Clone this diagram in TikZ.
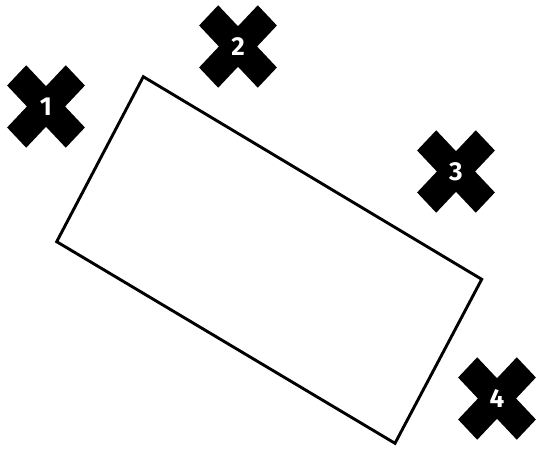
\documentclass[tikz,border=0pt]{standalone}
\usepackage{fontspec}
\setmainfont{Fira Sans}
\begin{document}
\begin{tikzpicture}[x=1pt,y=-1pt,
  box/.style={draw=black,line width=2.9pt,line join=miter},
  xmark/.style={fill=black},
  num/.style={text=white,font=\fontsize{26}{26}\selectfont\bfseries,inner sep=0pt,anchor=center}]
\useasboundingbox (0,0) rectangle (536,449);
\coordinate (tl) at (143.3,76.7);
\coordinate (tr) at (481.7,279.3);
\coordinate (br) at (395,443.3);
\coordinate (bl) at (56.7,241.7);
\draw[box] (tl) -- (tr) -- (br) -- (bl) -- cycle;
\foreach \n/\cx/\cy in {1/46/106.5, 2/238/46.5, 3/456/171.5, 4/497/398.5} {
  \begin{scope}[shift={(\cx,\cy)},yscale=1.06]
    \fill[xmark,rotate=45] (-41.5,-13.5) rectangle (41.5,13.5);
    \fill[xmark,rotate=-45] (-41.5,-13.5) rectangle (41.5,13.5);
  \end{scope}
  \node[num] (m\n) at (\cx,\cy) {\n};
}
\end{tikzpicture}
\end{document}
